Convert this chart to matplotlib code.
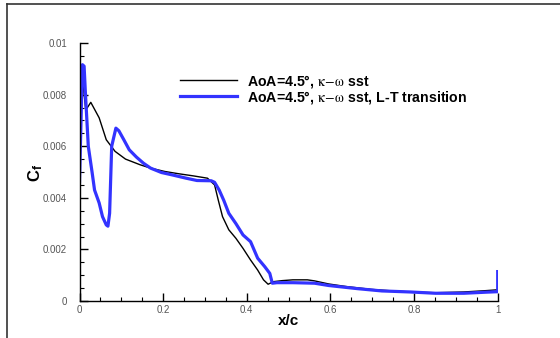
import matplotlib
matplotlib.use("Agg")
import matplotlib.pyplot as plt
from matplotlib.ticker import MultipleLocator, FuncFormatter
from matplotlib.lines import Line2D

plt.rcParams['font.family'] = ['Liberation Sans', 'DejaVu Sans']
plt.rcParams['mathtext.fontset'] = 'stix'

# k-omega sst (fully turbulent)
x_sst = [0.0, 0.004, 0.015, 0.027, 0.047, 0.064, 0.085, 0.11, 0.145, 0.17, 0.204,
         0.238, 0.272, 0.306, 0.323, 0.332, 0.342, 0.357, 0.374, 0.391, 0.409,
         0.426, 0.44, 0.451, 0.464, 0.485, 0.51, 0.545, 0.562, 0.596, 0.638,
         0.698, 0.749, 0.791, 0.851, 0.919, 0.97, 0.996, 1.0]
cf_sst = [0.0088, 0.0091, 0.0074, 0.0077, 0.0071, 0.00625, 0.0058, 0.0055, 0.00528,
          0.00515, 0.00502, 0.00493, 0.00485, 0.00476, 0.0045, 0.0039, 0.00327,
          0.00276, 0.00243, 0.00204, 0.00159, 0.0012, 0.00082, 0.00065, 0.00075,
          0.00079, 0.00082, 0.00082, 0.00078, 0.00066, 0.00056, 0.00045, 0.00039,
          0.00035, 0.00032, 0.00035, 0.0004, 0.00043, 0.00045]

# k-omega sst with L-T transition
x_lt = [0.0, 0.007, 0.011, 0.014, 0.021, 0.03, 0.036, 0.047, 0.055, 0.064, 0.068,
        0.072, 0.077, 0.087, 0.094, 0.106, 0.119, 0.136, 0.153, 0.17, 0.196, 0.221,
        0.255, 0.281, 0.315, 0.323, 0.334, 0.345, 0.357, 0.374, 0.391, 0.409,
        0.426, 0.443, 0.455, 0.461, 0.472, 0.511, 0.562, 0.596, 0.664, 0.723,
        0.791, 0.851, 0.919, 0.97, 0.998, 1.0, 1.0]
cf_lt = [0.00463, 0.00916, 0.0091, 0.0081, 0.006, 0.005, 0.0043, 0.0038, 0.00327,
         0.00295, 0.0029, 0.0034, 0.006, 0.0067, 0.0066, 0.00625, 0.00586, 0.00558,
         0.00534, 0.00515, 0.00498, 0.00489, 0.00476, 0.00467, 0.00466, 0.0046,
         0.0043, 0.0039, 0.0034, 0.003, 0.00256, 0.0023, 0.00166, 0.00133, 0.00107,
         0.00069, 0.00071, 0.00071, 0.00069, 0.0006, 0.00048, 0.00039, 0.00035,
         0.0003, 0.0003, 0.00034, 0.00036, 0.00036, 0.00114]

labels = [r"AoA=4.5°, $\mathrm{\kappa\!-\!\omega}$ sst",
          r"AoA=4.5°, $\mathrm{\kappa\!-\!\omega}$ sst, L-T transition"]

fig = plt.figure(figsize=(5.6, 3.38), dpi=100)
# outer frame (left and top lines only)
fig.add_artist(Line2D([6.5/560, 6.5/560], [0, 1 - 3.5/338], color='#333333', lw=1.2))
fig.add_artist(Line2D([6.5/560, 1], [1 - 3.5/338, 1 - 3.5/338], color='#333333', lw=1.2))

ax = fig.add_axes([79.5/560, 1 - 301/338, (497.7 - 79.5)/560, (301 - 43)/338])
ax.plot(x_sst, cf_sst, color='black', lw=1.0, label=labels[0])
ax.plot(x_lt, cf_lt, color='#3333ff', lw=2.3, label=labels[1], solid_joinstyle='round')

ax.set_xlim(0, 1)
ax.set_ylim(0, 0.01)
for s in ['top', 'right']:
    ax.spines[s].set_visible(False)
for s in ['left', 'bottom']:
    ax.spines[s].set_linewidth(1.0)

ax.xaxis.set_major_locator(MultipleLocator(0.2))
ax.xaxis.set_minor_locator(MultipleLocator(0.05))
ax.yaxis.set_major_locator(MultipleLocator(0.002))
ax.yaxis.set_minor_locator(MultipleLocator(0.0005))
ax.xaxis.set_major_formatter(FuncFormatter(lambda v, p: ('%g' % round(v, 3))))
ax.yaxis.set_major_formatter(FuncFormatter(lambda v, p: ('%g' % round(v, 4))))
ax.tick_params(which='major', direction='in', length=6, width=1.0,
               labelsize=7, labelcolor='#555555')
ax.tick_params(axis='y', which='major', pad=9)
ax.tick_params(axis='x', which='major', pad=3)
ax.tick_params(which='minor', direction='in', length=3, width=0.8)

ax.set_xlabel('x/c', fontsize=11, fontweight='bold')
ax.set_ylabel(r'C$_\mathregular{f}$', fontsize=12, fontweight='bold')
ax.xaxis.set_label_coords(0.499, -0.052)
ax.yaxis.set_label_coords(-0.082, 0.496)

leg = ax.legend(loc='upper left', bbox_to_anchor=(0.24, 0.885), frameon=False,
                prop={'weight': 'bold', 'size': 10.2}, handlelength=4.0,
                handletextpad=0.72, labelspacing=-0.08, borderaxespad=0,
                borderpad=0)

fig.savefig('out.png', dpi=100)
